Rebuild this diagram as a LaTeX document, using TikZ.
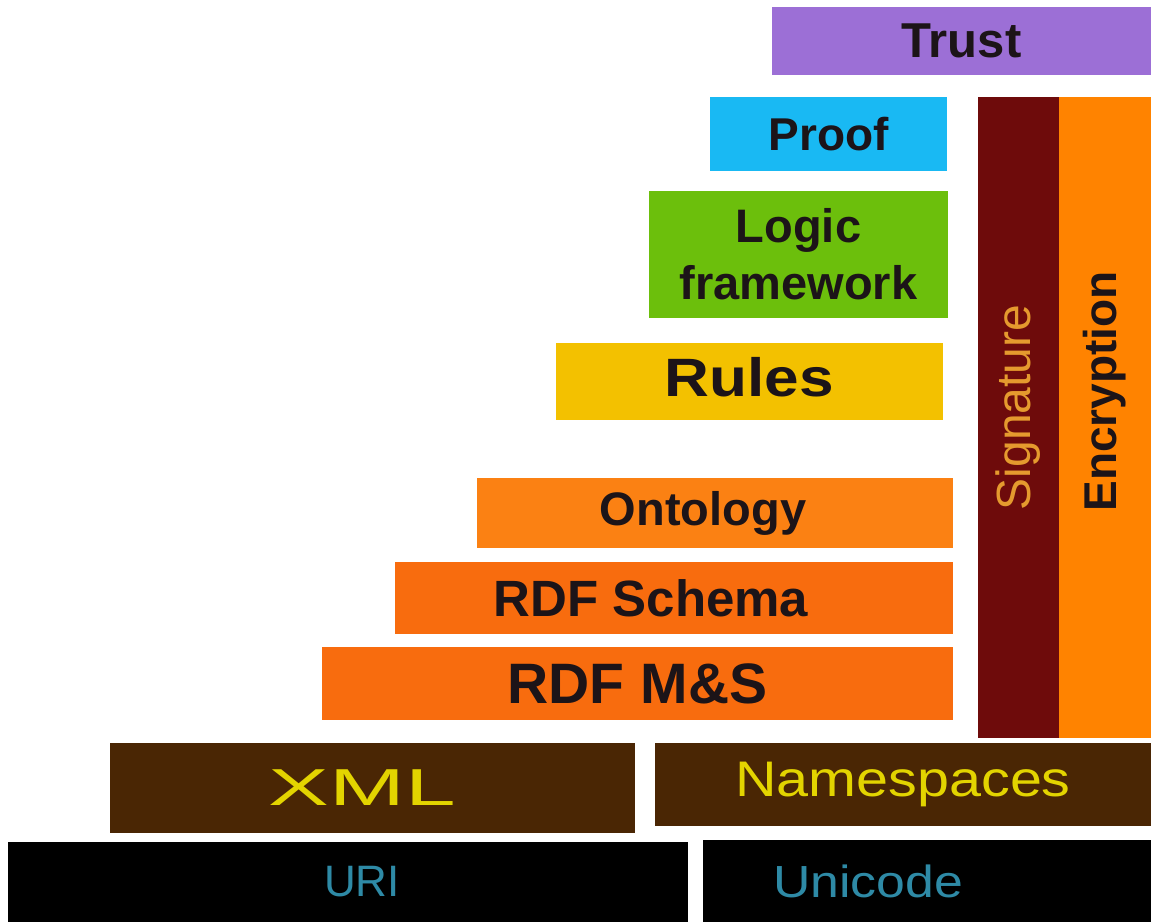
\documentclass[tikz,border=0pt]{standalone}
\usepackage{fontspec}
\newfontfamily\lbl{Liberation Sans Bold}
\newfontfamily\lblbwide[FakeStretch=1.15]{Liberation Sans Bold}
\newfontfamily\lblthin{Liberation Sans}
\newfontfamily\lblwide[FakeStretch=1.15]{Liberation Sans}
\newfontfamily\lblxml[FakeStretch=1.75]{Liberation Sans}
\newcommand\sz[1]{\fontsize{#1pt}{#1pt}\selectfont}
\definecolor{trustc}{HTML}{9C6FD6}
\definecolor{proofc}{HTML}{19B9F3}
\definecolor{logicc}{HTML}{6CBF0C}
\definecolor{rulesc}{HTML}{F3C100}
\definecolor{ontoc}{HTML}{FB8113}
\definecolor{rdfc}{HTML}{F86C0E}
\definecolor{sigc}{HTML}{6E0B0B}
\definecolor{sigtxt}{HTML}{E59A2E}
\definecolor{encc}{HTML}{FF8300}
\definecolor{xmlc}{HTML}{4A2604}
\definecolor{xmltxt}{HTML}{E3D400}
\definecolor{uritxt}{HTML}{2E8AA6}
\definecolor{ink}{HTML}{1C1418}

\begin{document}
\begin{tikzpicture}[
		x=1pt, y=-1pt,
		layer/.style={anchor=north west, inner sep=0pt, outer sep=0pt, align=center, text=ink},
		lbltxt/.style={inner sep=0pt, text=ink},
	]
	\useasboundingbox (0,0) rectangle (1151,922);
	% top of the stack
	\node (trust) [layer, fill=trustc, minimum width=379pt, minimum height=68pt, font=\lbl\sz{49}] at (772,7) {Trust};
	\node (proof) [layer, fill=proofc, minimum width=237pt, minimum height=74pt, font=\lbl\sz{46}] at (710,97) {Proof};
	\node (logic) [layer, fill=logicc, minimum width=299pt, minimum height=127pt, font=\lbl\fontsize{47pt}{57pt}\selectfont] at (649,191) {Logic\\framework};
	\node (rules) [layer, fill=rulesc, minimum width=387pt, minimum height=77pt,
		label={[lbltxt, font=\lblbwide\sz{54}, yshift=4pt]center:Rules}] at (556,343) {};
	% security columns
	\node (sig) [layer, fill=sigc, minimum width=81pt, minimum height=641pt,
		label={[lbltxt, text=sigtxt, font=\lblthin\sz{48}, yshift=10pt]center:\rotatebox{90}{Signature}}] at (978,97) {};
	\node (enc) [layer, fill=encc, minimum width=92pt, minimum height=641pt,
		label={[lbltxt, font=\lbl\sz{46}, yshift=26pt]center:\rotatebox{90}{Encryption}}] at (1059,97) {};
	% rdf layers
	\node (onto) [layer, fill=ontoc, minimum width=476pt, minimum height=70pt,
		label={[lbltxt, font=\lbl\sz{47}, xshift=-12pt]center:Ontology}] at (477,478) {};
	\node (rdfs) [layer, fill=rdfc, minimum width=558pt, minimum height=72pt,
		label={[lbltxt, font=\lbl\sz{51}, xshift=-23pt]center:RDF Schema}] at (395,562) {};
	\node (rdfms) [layer, fill=rdfc, minimum width=631pt, minimum height=73pt, font=\lbl\sz{57}] at (322,647) {RDF M\&S};
	% base
	\node (xml) [layer, fill=xmlc, minimum width=525pt, minimum height=90pt,
		label={[lbltxt, text=xmltxt, font=\lblxml\sz{52}, xshift=-10pt]center:XML}] at (110,743) {};
	\node (ns) [layer, fill=xmlc, text=xmltxt, minimum width=496pt, minimum height=83pt, font=\lblwide\sz{50}] at (655,743) {Namespaces};
	\node (uri) [layer, fill=black, minimum width=680pt, minimum height=80pt,
		label={[lbltxt, text=uritxt, font=\lblthin\sz{44}, xshift=14pt]center:URI}] at (8,842) {};
	\node (unicode) [layer, fill=black, minimum width=448pt, minimum height=82pt,
		label={[lbltxt, text=uritxt, font=\lblwide\sz{45}, xshift=-59pt]center:Unicode}] at (703,840) {};
\end{tikzpicture}
\end{document}
